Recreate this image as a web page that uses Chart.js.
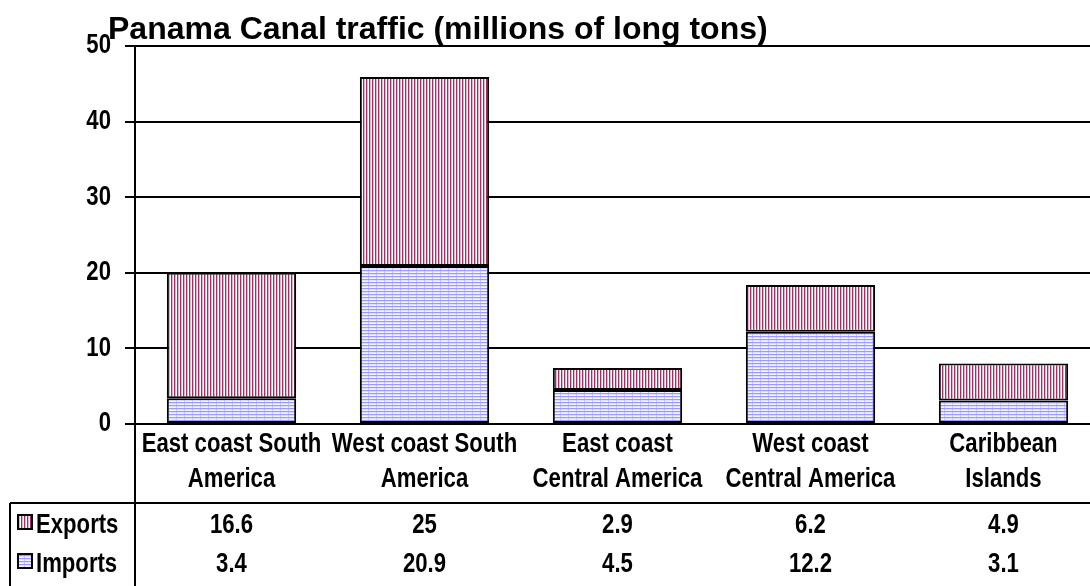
<!DOCTYPE html>
<html lang="en">
<head>
    <meta charset="UTF-8">
    <title>Panama Canal traffic</title>
    <script src="https://cdn.jsdelivr.net/npm/chart.js"></script>
    <style>
        html, body {
            margin: 0;
            padding: 0;
            background: #fff;
            overflow: hidden;
        }
        #wrap {
            width: 1090px;
            height: 586px;
            overflow: hidden;
        }
    </style>
</head>
<body>
    <div id="wrap">
        <canvas id="canalChart" width="1100" height="586"></canvas>
    </div>

    <script>
        const chartTitle = 'Panama Canal traffic (millions of long tons)';
        const regions = [
            ['East coast South', 'America'],
            ['West coast South', 'America'],
            ['East coast', 'Central America'],
            ['West coast', 'Central America'],
            ['Caribbean', 'Islands']
        ];
        const exportsTons = [16.6, 25, 2.9, 6.2, 4.9];
        const importsTons = [3.4, 20.9, 4.5, 12.2, 3.1];
        const yTicks = [0, 10, 20, 30, 40, 50];

        const arial = '"Liberation Sans", Arial, sans-serif';
        // no Arial Narrow here, so squeeze Arial-like glyphs sideways instead
        const NARROW = 0.82;
        let squeezeText = true;

        const canvas = document.getElementById('canalChart');
        const ctx = canvas.getContext('2d');
        const plainFillText = ctx.fillText;
        ctx.fillText = function(text, x, y, maxWidth) {
            if (!squeezeText) {
                return maxWidth === undefined ? plainFillText.call(this, text, x, y) : plainFillText.call(this, text, x, y, maxWidth);
            }
            this.save();
            this.translate(x, y);
            this.scale(NARROW, 1);
            plainFillText.call(this, text, 0, 0);
            this.restore();
        };

        // little fill patterns like the old Excel ones
        function makePattern(cols, rows, paint) {
            const c = document.createElement('canvas');
            c.width = cols;
            c.height = rows;
            const g = c.getContext('2d');
            g.fillStyle = '#ffffff';
            g.fillRect(0, 0, cols, rows);
            paint(g);
            return ctx.createPattern(c, 'repeat');
        }

        const exportFill = makePattern(3, 4, g => {
            g.fillStyle = '#993366';
            g.fillRect(0, 0, 1, 4);
            g.fillStyle = '#e2b4cb';
            g.fillRect(1, 0, 1, 4);
        });

        const importFill = makePattern(8, 3, g => {
            g.fillStyle = '#dedeff';
            g.fillRect(0, 0, 8, 3);
            g.fillStyle = '#f4f4ff';
            g.fillRect(0, 2, 8, 1);
            g.fillStyle = '#9999ff';
            g.fillRect(0, 0, 8, 1);
            g.fillStyle = '#c4c4ff';
            g.fillRect(0, 1, 1, 2);
        });

        const titlePlugin = {
            id: 'excelTitle',
            afterDraw(chart) {
                const c = chart.ctx;
                c.save();
                squeezeText = false;
                c.fillStyle = '#000';
                c.font = 'bold 32px ' + arial;
                c.textAlign = 'left';
                c.textBaseline = 'alphabetic';
                c.fillText(chartTitle, 108, 39);
                squeezeText = true;
                c.restore();
            }
        };

        // data table under the category axis
        const dataTablePlugin = {
            id: 'dataTable',
            afterDraw(chart) {
                const c = chart.ctx;
                const area = chart.chartArea;
                const xs = chart.scales.x;
                const h = chart.height;
                const tableTop = area.bottom + 79;
                const rows = [
                    { name: 'Exports', values: exportsTons, fill: exportFill, y: tableTop + 23 },
                    { name: 'Imports', values: importsTons, fill: importFill, y: tableTop + 62 }
                ];

                c.save();
                c.strokeStyle = '#000';
                c.lineWidth = 2;
                c.beginPath();
                c.moveTo(area.left, area.bottom);
                c.lineTo(area.left, h);
                c.moveTo(10, tableTop);
                c.lineTo(chart.width, tableTop);
                c.moveTo(10, tableTop);
                c.lineTo(10, h);
                c.stroke();

                c.font = 'bold 27px ' + arial;
                c.textBaseline = 'middle';
                rows.forEach(row => {
                    c.fillStyle = row.fill;
                    c.fillRect(18, row.y - 11, 14, 14);
                    c.strokeRect(18, row.y - 11, 14, 14);
                    c.fillStyle = '#000';
                    c.textAlign = 'left';
                    c.fillText(row.name, 36, row.y);
                    c.textAlign = 'center';
                    row.values.forEach((v, i) => {
                        c.fillText(String(v), xs.getPixelForValue(i), row.y);
                    });
                });
                c.restore();
            }
        };

        new Chart(ctx, {
            type: 'bar',
            data: {
                labels: regions,
                datasets: [{
                    label: 'Imports',
                    data: importsTons,
                    backgroundColor: importFill,
                    borderColor: '#000',
                    borderWidth: 2,
                    borderSkipped: false
                }, {
                    label: 'Exports',
                    data: exportsTons,
                    backgroundColor: exportFill,
                    borderColor: '#000',
                    borderWidth: 2,
                    borderSkipped: false
                }]
            },
            options: {
                responsive: false,
                animation: false,
                layout: {
                    padding: { top: 46, left: 0, right: 0, bottom: 0 }
                },
                datasets: {
                    bar: {
                        categoryPercentage: 1,
                        barPercentage: 0.67
                    }
                },
                scales: {
                    x: {
                        stacked: true,
                        grid: { display: false, drawTicks: false },
                        border: { display: false },
                        ticks: {
                            color: '#000',
                            maxRotation: 0,
                            autoSkip: false,
                            padding: 3,
                            font: { family: arial, size: 27, weight: 'bold', lineHeight: 1.3 }
                        },
                        afterFit(scale) {
                            scale.height = 162;
                        }
                    },
                    y: {
                        stacked: true,
                        min: yTicks[0],
                        max: yTicks[yTicks.length - 1],
                        grid: {
                            color: '#000',
                            lineWidth: 2,
                            tickLength: 10
                        },
                        border: { display: true, color: '#000', width: 2 },
                        ticks: {
                            stepSize: 10,
                            color: '#000',
                            padding: 14,
                            font: { family: arial, size: 27, weight: 'bold' }
                        },
                        afterFit(scale) {
                            scale.width = 135;
                        }
                    }
                },
                plugins: {
                    legend: { display: false },
                    tooltip: { enabled: false },
                    title: { display: false }
                }
            },
            plugins: [titlePlugin, dataTablePlugin]
        });
    </script>
</body>
</html>
